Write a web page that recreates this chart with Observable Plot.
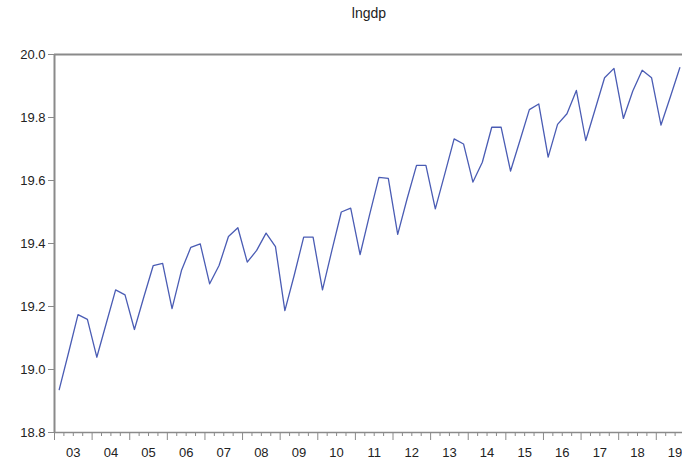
<!DOCTYPE html>
<html>
<head>
<meta charset="utf-8">
<script src="https://cdn.jsdelivr.net/npm/d3@7"></script>
<script src="https://cdn.jsdelivr.net/npm/@observablehq/plot@0.6"></script>
<style>
  html, body { margin: 0; padding: 0; background: white; overflow: hidden; }
  #title { width: 630px; padding-left: 54px; height: 26px; line-height: 26px; text-align: center;
           font-family: "Liberation Sans", Arial, sans-serif; font-size: 14px; color: #222; }
</style>
</head>
<body>
<div id="title">lngdp</div>
<div id="chart"></div>
<script>
const startYear = 2003;
const values = [
  18.936, 19.054, 19.174, 19.159,
  19.039, 19.146, 19.253, 19.237,
  19.127, 19.230, 19.330, 19.337,
  19.193, 19.314, 19.388, 19.399,
  19.272, 19.330, 19.422, 19.450,
  19.341, 19.378, 19.433, 19.390,
  19.187, 19.300, 19.420, 19.420,
  19.253, 19.378, 19.500, 19.512,
  19.365, 19.490, 19.610, 19.607,
  19.429, 19.542, 19.648, 19.648,
  19.510, 19.620, 19.732, 19.716,
  19.595, 19.658, 19.769, 19.769,
  19.630, 19.727, 19.825, 19.843,
  19.674, 19.778, 19.812, 19.886,
  19.727, 19.826, 19.926, 19.956,
  19.797, 19.884, 19.950, 19.926,
  19.776, 19.866, 19.958
];
const yearLabels = ["03","04","05","06","07","08","09","10","11","12","13","14","15","16","17","18","19"];
const yTicks = [18.8, 19.0, 19.2, 19.4, 19.6, 19.8, 20.0];

const data = values.map((v, i) => ({t: startYear + (i + 0.5) / 4, v}));
const years = yearLabels.map((_, i) => startYear + i);
const majorTicks = years.concat([startYear + yearLabels.length]);
const minorTicks = [];
years.forEach(y => { minorTicks.push(y + 0.25, y + 0.5, y + 0.75); });
const labelPos = years.map(y => y + 0.5);

const gray = "#8a8a8a";
const font = "Liberation Sans, Arial, sans-serif";

const chart = Plot.plot({
  width: 682,
  height: 440,
  marginTop: 28,
  marginBottom: 34,
  marginLeft: 54,
  marginRight: 0,
  style: {fontFamily: font, fontSize: "13px", color: "#222", background: "white"},
  x: {domain: [startYear, 2019.75], range: [54, 684], label: null},
  y: {domain: [18.8, 20.0], label: null},
  marks: [
    Plot.line(data, {x: "t", y: "v", stroke: "#4a5cb4", strokeWidth: 1.3}),
    Plot.ruleY([20.0], {stroke: gray, strokeWidth: 2}),
    Plot.ruleY([18.8], {stroke: gray, strokeWidth: 1.5}),
    Plot.ruleX([startYear], {stroke: gray, strokeWidth: 2}),
    Plot.axisY({ticks: yTicks, label: null, tickSize: 6, tickPadding: 3, tickFormat: d3.format(".1f"), stroke: gray, fontSize: 13, fill: "#222"}),
    Plot.axisX({ticks: majorTicks, label: null, tickSize: 8, text: null, stroke: gray}),
    Plot.axisX({ticks: minorTicks, label: null, tickSize: 4, text: null, stroke: gray}),
    Plot.axisX({ticks: labelPos, label: null, tickSize: 0, tickPadding: 15, tickFormat: (d, i) => yearLabels[Math.round(d - 0.5) - startYear], fontSize: 13, fill: "#222"})
  ]
});
document.getElementById("chart").appendChild(chart);
</script>
</body>
</html>
